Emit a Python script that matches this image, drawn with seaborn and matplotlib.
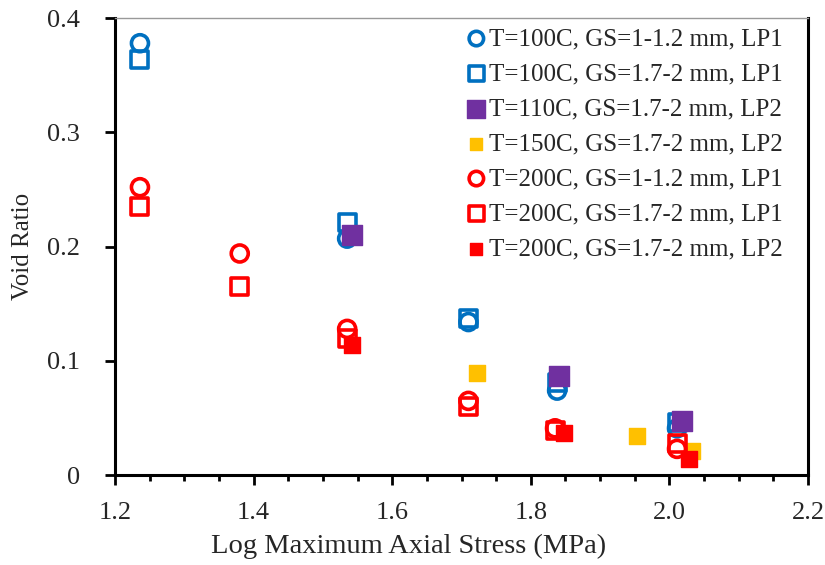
import matplotlib
matplotlib.use("Agg")
import matplotlib.pyplot as plt
import seaborn as sns
import numpy as np
import pandas as pd
from matplotlib.ticker import MultipleLocator, FixedLocator

# ---- data ----
labels = [
    "T=100C, GS=1-1.2 mm, LP1",
    "T=100C, GS=1.7-2 mm, LP1",
    "T=110C, GS=1.7-2 mm, LP2",
    "T=150C, GS=1.7-2 mm, LP2",
    "T=200C, GS=1-1.2 mm, LP1",
    "T=200C, GS=1.7-2 mm, LP1",
    "T=200C, GS=1.7-2 mm, LP2",
]
x_ticks = [1.2, 1.4, 1.6, 1.8, 2.0, 2.2]
x_tick_labels = ["1.2", "1.4", "1.6", "1.8", "2.0", "2.2"]
y_ticks = [0, 0.1, 0.2, 0.3, 0.4]
y_tick_labels = ["0", "0.1", "0.2", "0.3", "0.4"]

x_b_circ = [1.236, 1.535, 1.710, 1.838, 2.011]
y_b_circ = [0.378, 0.207, 0.134, 0.074, 0.041]
x_b_sq = [1.236, 1.535, 1.710, 1.838, 2.011]
y_b_sq = [0.364, 0.221, 0.137, 0.081, 0.046]
x_p_sq = [1.542, 1.841, 2.018]
y_p_sq = [0.210, 0.087, 0.047]
x_y_sq = [1.722, 1.953, 2.033]
y_y_sq = [0.089, 0.034, 0.021]
x_r_circ = [1.236, 1.380, 1.535, 1.710, 1.835, 2.011]
y_r_circ = [0.252, 0.194, 0.128, 0.065, 0.041, 0.023]
x_r_sq = [1.236, 1.380, 1.535, 1.710, 1.835, 2.011]
y_r_sq = [0.235, 0.165, 0.120, 0.060, 0.039, 0.028]
x_r_fsq = [1.542, 1.848, 2.028]
y_r_fsq = [0.114, 0.037, 0.014]

xs = [x_b_circ, x_b_sq, x_p_sq, x_y_sq, x_r_circ, x_r_sq, x_r_fsq]
ys = [y_b_circ, y_b_sq, y_p_sq, y_y_sq, y_r_circ, y_r_sq, y_r_fsq]

BLUE = "#0070C0"
PURPLE = "#7030A0"
YELLOW = "#FFC000"
RED = "#FF0000"
styles = [
    dict(marker="o", s=150, facecolor="none", edgecolor=BLUE, linewidth=2.6),
    dict(marker="s", s=150, facecolor="none", edgecolor=BLUE, linewidth=2.6),
    dict(marker="s", s=210, facecolor=PURPLE, edgecolor=PURPLE, linewidth=1),
    dict(marker="s", s=120, facecolor=YELLOW, edgecolor=YELLOW, linewidth=1),
    dict(marker="o", s=150, facecolor="none", edgecolor=RED, linewidth=2.6),
    dict(marker="s", s=150, facecolor="none", edgecolor=RED, linewidth=2.6),
    dict(marker="s", s=120, facecolor=RED, edgecolor=RED, linewidth=1),
]

sns.set_style("white")
plt.rcParams["font.family"] = ["Liberation Serif", "DejaVu Serif"]

fig = plt.figure(figsize=(8.25, 5.65), dpi=100)
ax = fig.add_axes([0.1394, 0.159, 0.8400, 0.809])

for x, y, lab, st in zip(xs, ys, labels, styles):
    df = pd.DataFrame({"x": x, "y": y})
    sns.scatterplot(data=df, x="x", y="y", ax=ax, label=lab, zorder=3, **st)

ax.set_xlim(1.2, 2.2)
ax.set_ylim(0, 0.4)
ax.xaxis.set_major_locator(FixedLocator(x_ticks))
ax.set_xticklabels(x_tick_labels)
ax.xaxis.set_minor_locator(MultipleLocator(0.05))
ax.yaxis.set_major_locator(FixedLocator(y_ticks))
ax.set_yticklabels(y_tick_labels)
ax.tick_params(axis="both", which="major", direction="out", length=7, width=2,
               labelsize=19, color="black")
ax.tick_params(axis="y", which="major", pad=18)
ax.tick_params(axis="x", which="minor", direction="out", length=4, width=2, color="black")
ax.tick_params(axis="x", which="major", pad=12)
ax.tick_params(axis="x", which="both", bottom=True)
ax.tick_params(axis="y", which="both", left=True)

for side in ["left", "bottom", "right"]:
    ax.spines[side].set_color("black")
    ax.spines[side].set_linewidth(2.2)
ax.spines["top"].set_color("#999999")
ax.spines["top"].set_linewidth(1.0)

ax.set_xlabel("Log Maximum Axial Stress (MPa)", fontsize=20.5)
ax.set_ylabel("Void Ratio", fontsize=18)
ax.xaxis.set_label_coords(0.423, -0.128)
ax.yaxis.set_label_coords(-0.117, 0.5)

leg = ax.legend(loc="upper right", bbox_to_anchor=(0.985, 1.012), frameon=False,
                fontsize=18, handletextpad=0.0, labelspacing=0.5,
                borderaxespad=0.2, handlelength=1.0, markerscale=0.85)

fig.savefig("out.png", dpi=100)
